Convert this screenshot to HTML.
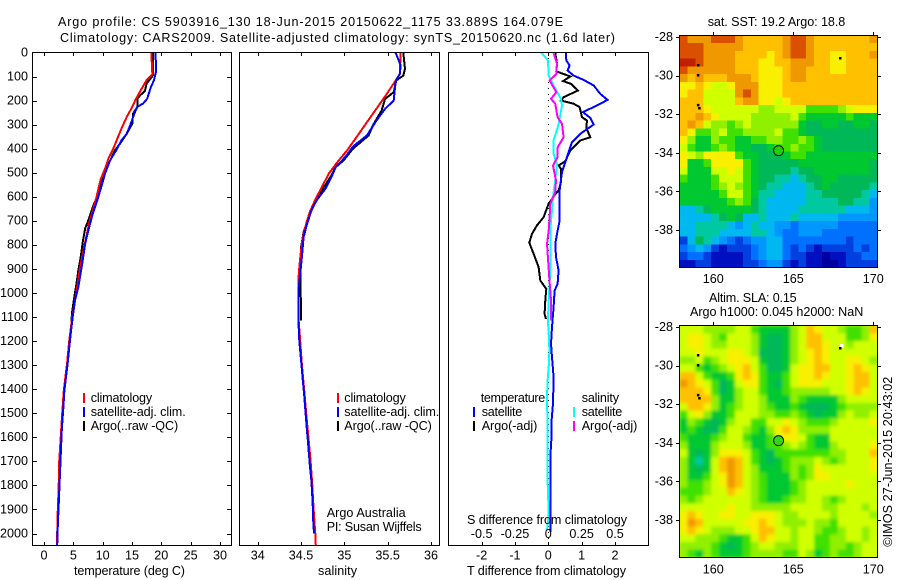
<!DOCTYPE html>
<html lang="en">
<head>
<meta charset="utf-8">
<title>Argo profile chart</title>
<style>
html,body{margin:0;padding:0;background:#fff;}
svg{display:block;}
text{font-family:"Liberation Sans",sans-serif;font-size:12.6px;fill:#000;}
</style>
</head>
<body>
<svg id="chart" xmlns="http://www.w3.org/2000/svg" width="900" height="580" viewBox="0 0 900 580">
  <defs>
    <filter id="sla-blur" x="-5%" y="-5%" width="110%" height="110%"><feGaussianBlur stdDeviation="1.7"/></filter>
    <clipPath id="clip-sla"><rect x="679.5" y="325.5" width="198" height="232"/></clipPath>
  </defs>
  <rect width="900" height="580" fill="#fff"/>
  <text x="58" y="26" textLength="505" lengthAdjust="spacing">Argo profile: CS 5903916_130 18-Jun-2015 20150622_1175 33.889S 164.079E</text>
  <text x="60" y="42" textLength="555" lengthAdjust="spacing">Climatology: CARS2009. Satellite-adjusted climatology: synTS_20150620.nc (1.6d later)</text>

  <g id="panel-temp-lines"></g>
  <g id="panel-sal-lines"></g>
  <line x1="548.5" y1="52" x2="548.5" y2="545" stroke="#000" stroke-width="1" stroke-dasharray="1 5"/>
  <g id="panel-diff-lines"></g>
  <g id="axes" shape-rendering="crispEdges"></g>

  <rect x="32.5" y="52.5" width="199" height="493" fill="none" stroke="#000" shape-rendering="crispEdges"/>
  <rect x="239.5" y="52.5" width="200" height="493" fill="none" stroke="#000" shape-rendering="crispEdges"/>
  <rect x="448.5" y="52.5" width="200" height="493" fill="none" stroke="#000" shape-rendering="crispEdges"/>

  <text x="74" y="575" textLength="111" lengthAdjust="spacing">temperature (deg C)</text>
  <text x="318" y="575" textLength="39" lengthAdjust="spacing">salinity</text>
  <text x="467" y="575" textLength="159" lengthAdjust="spacing">T difference from climatology</text>
  <text x="467" y="524" textLength="160" lengthAdjust="spacing">S difference from climatology</text>

  <g>
    <rect x="83" y="393" width="2" height="10" fill="#f00"/>
    <rect x="83" y="407" width="2" height="10" fill="#00f"/>
    <rect x="83" y="421" width="2" height="10" fill="#000"/>
    <text x="90.7" y="402" textLength="61.5" lengthAdjust="spacing">climatology</text>
    <text x="90.7" y="416" textLength="95" lengthAdjust="spacing">satellite-adj. clim.</text>
    <text x="90.7" y="430" textLength="87.5" lengthAdjust="spacing">Argo(..raw -QC)</text>
  </g>
  <g>
    <rect x="337" y="393" width="2" height="10" fill="#f00"/>
    <rect x="337" y="407" width="2" height="10" fill="#00f"/>
    <rect x="337" y="421" width="2" height="10" fill="#000"/>
    <text x="344.3" y="402" textLength="61.5" lengthAdjust="spacing">climatology</text>
    <text x="344.3" y="416" textLength="95" lengthAdjust="spacing">satellite-adj. clim.</text>
    <text x="344.3" y="430" textLength="87.5" lengthAdjust="spacing">Argo(..raw -QC)</text>
    <text x="326.7" y="517" textLength="79" lengthAdjust="spacing">Argo Australia</text>
    <text x="326.7" y="531" textLength="95" lengthAdjust="spacing">PI: Susan Wijffels</text>
  </g>
  <g>
    <text x="480.7" y="402" textLength="64.6" lengthAdjust="spacing">temperature</text>
    <rect x="473" y="407" width="2" height="10" fill="#00f"/>
    <text x="481.7" y="416" textLength="40.6" lengthAdjust="spacing">satellite</text>
    <rect x="473" y="421" width="2" height="10" fill="#000"/>
    <text x="481.7" y="430" textLength="55.6" lengthAdjust="spacing">Argo(-adj)</text>
    <text x="581.7" y="402" textLength="37.3" lengthAdjust="spacing">salinity</text>
    <rect x="573" y="407" width="2" height="10" fill="#0ff"/>
    <text x="581.7" y="416" textLength="40.6" lengthAdjust="spacing">satellite</text>
    <rect x="573" y="421" width="2" height="10" fill="#f0f"/>
    <text x="581.7" y="430" textLength="55.6" lengthAdjust="spacing">Argo(-adj)</text>
  </g>

  <text x="707.7" y="26" textLength="137.6" lengthAdjust="spacing">sat. SST: 19.2 Argo: 18.8</text>
  <g id="sst-map" shape-rendering="crispEdges"></g>
  <text x="709" y="302" textLength="87.7" lengthAdjust="spacing">Altim. SLA: 0.15</text>
  <text x="690" y="316" textLength="173.3" lengthAdjust="spacing">Argo h1000: 0.045 h2000: NaN</text>
  <rect x="679.5" y="325.5" width="198" height="232" fill="#c8f800"/>
  <g clip-path="url(#clip-sla)"><g id="sla-map" filter="url(#sla-blur)"></g></g>
  <rect x="840" y="344" width="3.5" height="3.5" fill="#fff"/>
  <g id="map-overlay"></g>
  <rect x="679.5" y="35.5" width="198" height="232" fill="none" stroke="#000" shape-rendering="crispEdges"/>
  <rect x="679.5" y="325.5" width="198" height="232" fill="none" stroke="#000" shape-rendering="crispEdges"/>
  <text x="892" y="546.7" transform="rotate(-90 892 546.7)" textLength="170" lengthAdjust="spacing">©IMOS 27-Jun-2015 20:43:02</text>
</svg>

<script>
// ---- axis ticks ----
const depthTicks = [0,100,200,300,400,500,600,700,800,900,1000,1100,1200,1300,1400,1500,1600,1700,1800,1900,2000];
const tempTicks = [0,5,10,15,20,25,30];
const salTicks = [34,34.5,35,35.5,36];
const diffTicks = [-2,-1,0,1,2];
const sDiffTicks = [-0.5,-0.25,0,0.25,0.5];
const latTicks = [-28,-30,-32,-34,-36,-38];
const lonTicks = [160,165,170];

// ---- temperature profiles ----
const tempClimDepth = [0,74,90,115,150,192,233,268,317,365,400,440,483,525,565,607,700,800,900,1000,1100,1200,1300,1400,1500,1600,1700,1800,1900,2000,2050];
const tempClim = [18.35,18.4,18.5,17.5,16.65,15.7,14.9,14.1,13.2,12.4,11.8,11,10.4,9.7,9.3,8.9,7.8,6.9,6.1,5.5,4.8,4.3,3.9,3.4,3.1,2.85,2.6,2.5,2.35,2.25,2.2];
const tempSatDepth = [0,80,115,146,192,212,226,254,296,338,366,407,449,504,553,601,671,740,796,865,934,976,1031,1100,1170,1225,1295,1350,1405,1475,1530,1586,1648,1800,2000,2050];
const tempSat = [19.03,19.1,18.75,18.2,17.6,16.9,15.9,15.4,14.8,14.1,13.2,12.3,11.25,10.4,9.83,9.26,8.3,7.56,7,6.6,6.14,5.85,5.28,4.89,4.55,4.32,4.03,3.75,3.47,3.3,3.13,3,2.9,2.65,2.3,2.25];
const tempArgoDepth = [0,94,108,129,160,178,192,226,254,296,338,379,407,462,518,567,611,636,678,733,789,851,906,955,1017,1073,1120];
const tempArgo = [18.6,18.6,18.2,17.5,17.2,16.4,15.9,15.9,15.2,15.06,14.1,12.95,12.1,11,10.1,9.55,8.86,8.4,7.84,7,6.6,6.25,5.85,5.57,5.17,4.83,4.66];

// ---- salinity profiles ----
const salClimDepth = [0,89,123,172,234,290,352,408,460,504,560,615,664,712,768,823,893,948,1000,1100,1200,1300,1400,1500,1600,1700,1800,1900,2000,2050];
const salClim = [35.65,35.64,35.58,35.49,35.37,35.26,35.14,35.03,34.91,34.82,34.74,34.66,34.6,34.56,34.52,34.5,34.48,34.47,34.47,34.47,34.49,34.51,34.535,34.56,34.585,34.61,34.63,34.645,34.665,34.67];
const salSatDepth = [0,26,54,89,123,200,234,283,345,391,435,477,518,567,615,657,712,768,851,920,990,1114,1200,1300,1364,1419,1489,1558,1641,1710,1780,1877,1946,2001];
const salSat = [35.59,35.62,35.65,35.64,35.59,35.57,35.47,35.37,35.26,35.1,35.01,34.9,34.85,34.78,34.68,34.62,34.57,34.53,34.51,34.49,34.47,34.47,34.48,34.505,34.52,34.535,34.55,34.565,34.585,34.6,34.62,34.635,34.64,34.65];
const salArgoDepth = [0,68,96,116,165,193,241,303,345,400,449,477,511,574,623,692,747,810,893,1073,1114];
const salArgo = [35.68,35.7,35.68,35.6,35.57,35.47,35.43,35.33,35.28,35.1,34.99,34.9,34.85,34.74,34.66,34.58,34.53,34.5,34.49,34.5,34.5];

// ---- difference profiles ----
const dTSatDepth = [0,33,54,75,96,114,137,172,197,220,248,272,300,338,373,414,456,497,574,657,699,754,796,851,906,962,990,1059,1142,1211,1267,1350,1461,1544,1613,1683,1994];
const dTSat = [0.53,0.54,0.64,0.58,0.76,1.06,1.36,1.56,1.78,1.46,1.04,1.26,1.36,0.96,0.71,0.61,0.51,0.41,0.34,0.33,0.34,0.26,0.21,0.23,0.31,0.28,0.19,0.16,0.11,0.08,0.11,0.16,0.14,0.09,0.09,0.06,0.06];
const dTArgoDepth = [3,47,78,100,119,130,158,186,200,213,227,269,283,313,352,366,407,452,470,484,539,574,588,610,629,685,719,754,791,837,892,948,983,1031,1087,1108];
const dTArgo = [0.21,0.26,0.24,0.66,0.44,0.68,0.89,0.46,0.38,0.76,0.94,1.01,1.16,1.14,1.26,0.96,0.66,0.51,0.31,0.38,0.38,0.31,0.21,0.11,0.01,-0.14,-0.34,-0.49,-0.57,-0.44,-0.29,-0.24,-0.06,-0.09,-0.11,-0.07];
const dSSatDepth = [0,33,96,123,158,193,220,297,366,421,463,532,602,657,699,754,892,962,1031,1115,1170,1239,1309,1364,1433,1572,1780,1919,1988];
const dSSat = [-0.052,-0.003,0.003,0.028,0.06,0.095,0.103,0.078,0.04,0.04,0.065,0.052,0.035,0.028,0.02,0.015,0.015,0.01,0.003,-0.003,0.003,0.008,0.003,-0.005,-0.01,-0.005,-0.005,0.003,-0.01];
const dSArgoDepth = [3,47,89,116,165,193,213,269,297,352,394,435,470,532,581,629,685,740,796,851,920,1031,1115];
const dSArgo = [0.04,0.065,0.06,0.01,0.06,0.02,0.052,0.07,0.103,0.115,0.07,0.07,0.035,0.058,0.052,0.015,0.01,0.003,-0.01,-0.003,0.005,0.02,0.022];

// ---- SST colour levels, north to south, west to east ----
const sstLevels = [
[15,14,14,14,15,15,15,14,13,13,13,13,13,14,15,15,14,13,13,13,13,13,13,13,14],
[15,15,15,14,14,14,14,14,13,13,13,13,13,14,15,15,14,13,13,13,13,13,13,13,13],
[15,15,15,14,14,14,14,13,13,13,13,12,13,14,15,15,14,13,13,12,12,13,13,13,14],
[16,16,15,14,14,14,14,13,13,13,12,12,13,13,14,14,14,13,13,12,12,13,13,13,13],
[15,14,14,14,14,14,14,13,13,13,12,12,12,13,14,14,13,13,13,12,12,13,13,13,13],
[14,13,14,13,13,13,14,14,14,13,12,12,12,13,14,14,13,13,13,13,13,13,13,13,13],
[12,12,13,12,11,11,12,14,14,14,12,12,12,13,13,13,13,13,13,13,13,13,13,13,13],
[12,13,13,11,11,11,11,14,15,14,12,12,12,13,13,13,13,13,13,13,13,13,13,13,13],
[13,13,13,11,11,11,11,13,14,14,12,12,11,12,13,13,13,13,13,13,13,13,13,13,13],
[13,13,13,12,11,11,11,11,11,11,10,10,11,11,11,11,9,9,9,9,10,11,12,12,12],
[13,13,14,13,12,11,11,11,11,10,10,10,10,10,11,9,8,8,8,8,8,9,8,8,8],
[13,14,13,11,10,10,9,10,11,10,10,10,10,10,10,8,7,7,8,8,7,7,8,8,7],
[13,12,9,9,10,11,9,9,10,10,10,10,11,9,9,8,7,7,7,7,7,7,7,7,7],
[12,10,8,8,10,9,9,8,8,9,9,10,10,9,9,10,9,8,7,7,7,7,7,7,7],
[11,9,8,8,9,10,9,8,8,7,7,8,9,9,10,9,9,8,7,7,7,7,7,7,7],
[12,11,10,12,12,12,12,9,8,8,7,7,7,8,9,9,8,8,8,8,8,8,8,8,8],
[12,8,8,9,12,12,12,12,9,8,7,7,7,7,7,8,8,8,8,8,8,8,8,8,7],
[11,8,8,8,11,11,12,11,9,8,7,7,7,7,6,7,7,8,8,8,8,8,8,8,7],
[9,8,8,8,9,11,11,11,9,8,7,7,6,6,5,6,7,7,8,8,7,7,7,7,7],
[8,8,8,8,9,10,11,10,9,8,7,6,6,5,5,5,6,7,8,7,7,7,7,7,6],
[8,8,8,8,8,9,11,11,9,8,6,6,5,5,5,5,6,6,7,7,7,7,7,6,5],
[8,8,8,8,8,8,9,10,9,7,6,5,5,5,5,5,6,6,6,6,7,7,6,6,4],
[5,5,6,7,8,8,8,8,8,7,6,5,5,5,5,6,6,6,6,6,6,5,5,5,4],
[5,5,5,5,6,7,8,7,5,5,6,5,5,5,6,5,5,5,5,5,4,4,4,4,4],
[5,5,6,6,6,6,5,4,5,6,5,5,4,4,3,4,4,4,4,4,3,3,3,3,3],
[5,5,6,6,6,5,5,5,5,6,6,5,4,3,3,4,4,4,3,3,3,3,3,3,3],
[2,5,7,6,5,4,3,2,3,4,4,5,5,3,3,3,3,3,3,3,3,2,3,3,3],
[3,4,5,4,2,1,2,2,2,3,4,5,5,3,2,3,2,1,2,2,2,2,3,2,3],
[2,3,3,2,1,1,1,1,2,3,4,5,5,3,2,2,1,1,0,1,1,2,2,3,3],
[1,1,2,2,1,1,1,1,2,2,3,4,4,2,1,2,1,1,0,0,1,2,2,2,2]
];

// ---- SLA colour levels, north to south, west to east ----
const slaLevels = [
[11,11,11,10,10,10,10,11,11,9,8,8,8,8,10,11,13,12,11,11,10,9,9,10,13],
[11,12,12,11,10,9,11,11,11,10,8,7,7,8,10,11,13,13,11,11,11,9,9,10,12],
[11,12,12,11,10,10,11,11,11,10,8,7,7,8,10,11,13,13,12,11,11,10,11,11,11],
[11,11,12,11,11,11,12,12,11,10,7,7,7,8,10,11,12,13,12,11,11,11,11,11,11],
[10,10,11,9,10,11,12,12,12,11,8,7,7,8,10,11,12,13,12,11,11,12,12,11,10],
[11,11,9,8,9,10,11,12,13,11,9,7,7,8,11,12,12,13,13,11,11,12,13,12,11],
[13,13,11,9,8,8,9,12,13,12,9,8,8,9,11,12,12,13,12,11,11,12,13,13,11],
[14,13,12,11,9,7,8,11,12,12,9,8,7,9,11,12,12,12,11,11,11,12,13,13,11],
[13,13,13,12,9,7,8,10,11,11,9,8,8,9,10,10,10,10,10,11,11,12,13,12,11],
[13,13,13,13,10,8,8,10,11,11,10,8,8,8,10,9,8,8,8,8,10,11,11,11,11],
[11,13,13,12,10,8,9,10,11,11,10,9,8,8,9,8,7,7,7,8,9,10,10,10,10],
[9,11,12,10,8,8,9,11,11,11,10,10,9,9,10,9,8,7,8,8,10,11,10,10,11],
[8,10,9,8,7,8,10,11,11,9,9,11,11,12,11,10,9,9,9,10,11,11,11,11,12],
[8,9,8,7,7,9,11,11,10,9,8,10,12,13,12,10,10,10,10,11,11,11,11,11,11],
[9,8,8,8,9,10,11,11,9,8,8,9,11,12,12,11,9,8,8,11,11,11,11,11,11],
[10,8,8,8,10,11,11,11,10,8,8,9,9,10,11,10,9,8,8,10,11,11,11,11,12],
[11,8,7,8,10,12,12,12,11,9,8,7,9,9,9,9,9,9,9,10,10,11,11,11,13],
[10,8,6,8,11,13,14,13,11,9,8,7,8,9,10,10,10,11,10,9,10,11,11,11,12],
[10,8,7,8,11,13,14,13,11,10,8,8,8,9,10,9,10,12,11,11,11,11,11,11,12],
[10,8,8,9,11,12,14,13,11,10,9,8,8,8,10,9,10,12,12,11,11,11,11,11,11],
[10,9,9,10,11,12,14,13,11,10,9,8,8,8,9,10,11,11,11,11,11,12,11,11,11],
[9,9,9,10,11,11,13,12,11,10,9,8,8,8,9,10,11,11,11,11,11,11,11,11,11],
[10,9,10,11,11,11,11,11,11,10,9,8,8,9,10,10,11,11,10,9,10,11,11,11,11],
[11,11,11,11,11,11,12,11,11,10,10,10,10,10,11,11,11,11,10,10,11,11,11,10,11],
[12,13,12,11,11,12,12,11,11,12,12,12,11,10,10,11,11,11,11,10,11,11,11,11,10],
[12,14,13,11,11,11,11,11,12,12,13,12,11,10,10,10,11,10,10,9,11,11,11,11,11],
[12,13,12,11,10,10,10,11,11,12,13,13,11,11,10,11,11,10,9,9,10,11,11,10,11],
[11,11,10,10,10,9,8,8,9,11,13,12,11,11,10,11,11,9,9,10,10,11,11,10,11],
[10,10,10,10,9,8,7,8,9,10,11,11,10,10,10,11,11,9,9,10,10,9,10,11,11],
[10,9,8,10,9,8,8,8,9,10,10,10,10,9,9,11,10,8,9,10,9,9,10,11,11]
];

const levelColors = ['#0000a0','#0010c0','#0040e0','#0070ff','#0098ff','#00b8f0','#00c8a0','#00b858','#00c830','#40e000','#90f000','#d0ff00','#f8f000','#ffc000','#f09800','#d85000','#c02000'];
const coastLon = [159.04,159.04,159.04,159.12,167.92];
const coastLat = [-29.45,-29.97,-31.52,-31.68,-29.09];
const argoLon = 164.079;
const argoLat = -33.889;

// ---- scales ----
const NS = 'http://www.w3.org/2000/svg';
const depthY = d => 52.5 + d * 0.2405;
const tempX = t => 44 + 5.865 * t;
const salX = s => 257.7 + 86.65 * (s - 34);
const diffX = t => 548.3 + 33.33 * t;
const sDiffX = s => diffX(s * 4);
const lonX = lon => 713.3 + 16 * (lon - 160);
const latY1 = lat => 37 + 19.3 * (-28 - lat);
const latY2 = lat => 327 + 19.3 * (-28 - lat);

function make(tag, parent, attrs) {
  const el = document.createElementNS(NS, tag);
  for (const k in attrs) el.setAttribute(k, attrs[k]);
  parent.appendChild(el);
  return el;
}

function drawLine(parent, depths, values, xFn, color, name) {
  const pts = depths.map((d, i) => xFn(values[i]).toFixed(1) + ',' + depthY(d).toFixed(1)).join(' ');
  const el = make('polyline', parent, {points: pts, fill: 'none', stroke: color, 'stroke-width': 2, 'shape-rendering': 'crispEdges'});
  
  
}

const gT = document.getElementById('panel-temp-lines');
drawLine(gT, tempArgoDepth, tempArgo, tempX, '#000', 'temperature-argo-line');
drawLine(gT, tempClimDepth, tempClim, tempX, '#f00', 'temperature-climatology-line');
drawLine(gT, tempSatDepth, tempSat, tempX, '#00f', 'temperature-satellite-line');

const gS = document.getElementById('panel-sal-lines');
drawLine(gS, salArgoDepth, salArgo, salX, '#000', 'salinity-argo-line');
drawLine(gS, salClimDepth, salClim, salX, '#f00', 'salinity-climatology-line');
drawLine(gS, salSatDepth, salSat, salX, '#00f', 'salinity-satellite-line');

const gD = document.getElementById('panel-diff-lines');
drawLine(gD, dTArgoDepth, dTArgo, diffX, '#000', 't-difference-argo-line');
drawLine(gD, dTSatDepth, dTSat, diffX, '#00f', 't-difference-satellite-line');
drawLine(gD, dSSatDepth, dSSat, sDiffX, '#0ff', 's-difference-satellite-line');
drawLine(gD, dSArgoDepth, dSArgo, sDiffX, '#f0f', 's-difference-argo-line');

// ---- axes ----
const axes = document.getElementById('axes');
function tick(x1, y1, x2, y2) {
  const el = make('line', axes, {x1: x1, y1: y1, x2: x2, y2: y2, stroke: '#000', 'stroke-width': 1});
  
  
}
function label(x, y, txt, anchor) {
  const el = make('text', axes, {x: x, y: y, 'text-anchor': anchor});
  el.textContent = txt;
  
  
}
depthTicks.forEach(d => {
  const y = Math.round(depthY(d)) + 0.5;
  if (d > 0) {
    tick(32, y, 37, y);
    tick(227, y, 232, y);
  }
  label(28, depthY(d) + 3.8, String(d), 'end');
});
tempTicks.forEach(t => {
  const x = Math.round(tempX(t)) + 0.5;
  tick(x, 52, x, 56);
  tick(x, 542, x, 546);
  label(tempX(t), 559.5, String(t), 'middle');
});
salTicks.forEach(s => {
  const x = Math.round(salX(s)) + 0.5;
  tick(x, 52, x, 56);
  tick(x, 542, x, 546);
  label(salX(s), 559.5, String(s), 'middle');
});
diffTicks.forEach(t => {
  const x = Math.round(diffX(t)) + 0.5;
  tick(x, 52, x, 56);
  tick(x, 542, x, 546);
  label(diffX(t), 559.5, String(t), 'middle');
});
sDiffTicks.forEach(s => {
  label(sDiffX(s), 538, String(s), 'middle');
});
latTicks.forEach(lat => {
  [latY1, latY2].forEach(fn => {
    const y = Math.round(fn(lat)) + 0.5;
    tick(676, y, 680, y);
    tick(877, y, 881, y);
    label(673, fn(lat) + 4, String(lat), 'end');
  });
});
lonTicks.forEach(lon => {
  const x = Math.round(lonX(lon)) + 0.5;
  tick(x, 32, x, 36);
  tick(x, 322, x, 326);
  label(lonX(lon), 283, String(lon), 'middle');
  label(lonX(lon), 573.5, String(lon), 'middle');
});

// ---- heat maps ----
function drawMap(group, grid, top, name) {
  const rows = grid.length;
  const cols = grid[0].length;
  const w = 198 / cols;
  const h = 232 / rows;
  grid.forEach((row, r) => {
    row.forEach((v, c) => {
      const el = make('rect', group, {
        x: (679.5 + c * w).toFixed(2), y: (top + r * h).toFixed(2),
        width: (w + 0.4).toFixed(2), height: (h + 0.4).toFixed(2),
        fill: levelColors[v]
      });
      
      
    });
  });
}
drawMap(document.getElementById('sst-map'), sstLevels, 35.5, 'sst-cell');
drawMap(document.getElementById('sla-map'), slaLevels, 325.5, 'sla-cell');

// ---- overlays ----
const overlay = document.getElementById('map-overlay');
coastLon.forEach((lon, i) => {
  [latY1, latY2].forEach(fn => {
    const el = make('rect', overlay, {x: (lonX(lon) - 1).toFixed(1), y: (fn(coastLat[i]) - 1).toFixed(1), width: 2.5, height: 2.5, fill: '#000'});
    
    
  });
});
const sstMarker = make('circle', overlay, {cx: lonX(argoLon), cy: latY1(argoLat), r: 5, fill: '#20d000', stroke: '#000', 'stroke-width': 1});


const slaMarker = make('circle', overlay, {cx: lonX(argoLon), cy: latY2(argoLat), r: 5, fill: '#30d810', stroke: '#000', 'stroke-width': 1});


</script>
</body>
</html>
